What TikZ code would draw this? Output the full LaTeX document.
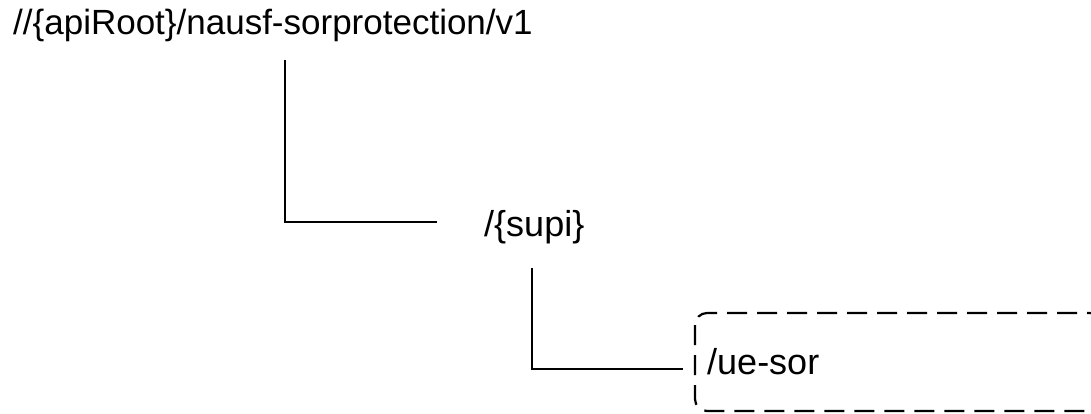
\documentclass[tikz,border=0pt]{standalone}
\usepackage{fontspec}
\setmainfont{Liberation Sans}
\begin{document}
\begin{tikzpicture}[x=1pt,y=-1pt,
  lbl/.style={anchor=base west,inner sep=0pt,font=\fontsize{36}{43}\selectfont},
  rootlbl/.style={lbl,font=\fontsize{35}{42}\selectfont},
  conn/.style={line width=2.2pt},
  resbox/.style={draw,line width=2.2pt,dash pattern=on 20pt off 10pt,rounded corners=12pt}]
\useasboundingbox (0,0) rectangle (1091,414);
\clip (0,0) rectangle (1091,414);
\node[rootlbl] (root) at (13,35) {//\{apiRoot\}/nausf-sorprotection/v1};
\node[lbl] (supi) at (484,236) {/\{supi\}};
\node[lbl] (uesor) at (707,374) {/ue-sor};
\coordinate (a1) at (285,60);
\coordinate (a2) at (437,222);
\coordinate (b1) at (532,268);
\coordinate (b2) at (683,369);
\draw[conn] (a1) |- (a2);
\draw[conn] (b1) |- (b2);
\draw[resbox] (695,313) rectangle (1102,411);
\end{tikzpicture}
\end{document}
